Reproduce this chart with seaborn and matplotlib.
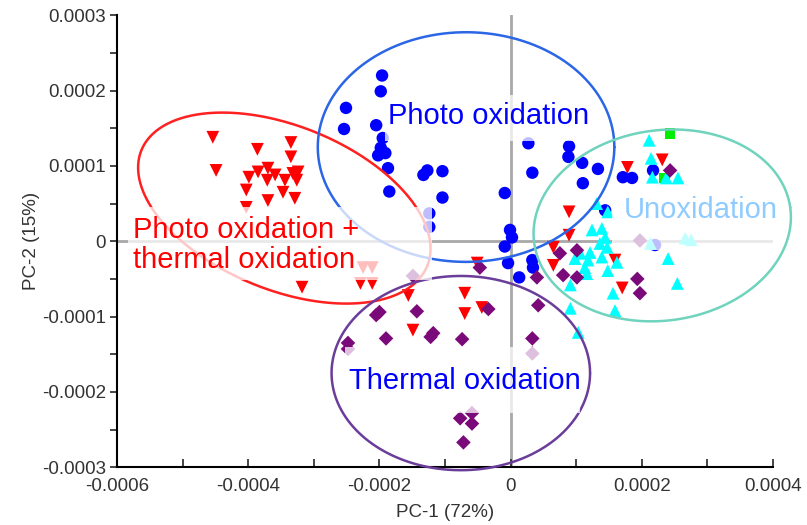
import numpy as np
import pandas as pd
import matplotlib
matplotlib.use("Agg")
import matplotlib.pyplot as plt
from matplotlib.patches import Rectangle
from matplotlib.ticker import MultipleLocator, FuncFormatter
import seaborn as sns

# scores, in units of 1e-4
photo_x = [-1.96, -1.98, -2.51, -2.54, -2.05, -1.95, -1.98, -2.02, -1.91, -1.87, -1.85,
           -1.27, -1.33, -1.04, -1.04, -1.24, -1.24, -0.09, -0.01, 0.02, -0.09, -0.04,
           0.33, 0.34, 0.13, 0.27, 0.33, 0.89, 0.88, 1.09, 1.33, 1.10, 1.44, 1.71, 1.85,
           2.17, 2.20]
photo_y = [2.20, 1.99, 1.77, 1.49, 1.54, 1.37, 1.24, 1.14, 1.17, 0.97, 0.66,
           0.94, 0.88, 0.93, 0.58, 0.37, 0.19, 0.64, 0.15, 0.05, -0.07, -0.29,
           -0.25, -0.35, -0.48, 1.30, 0.91, 1.26, 1.12, 1.04, 0.96, 0.77, 0.41, 0.85, 0.84,
           0.94, -0.05]

photo_thermal_x = [-4.54, -4.49, -3.86, -3.35, -3.35, -3.99, -3.85, -3.70, -3.71, -3.59,
                   -3.44, -3.32, -3.24, -3.26, -4.03, -3.47, -3.70, -3.29, -4.03, -3.18,
                   -2.29, -2.11, -2.25, -2.11, -1.56, -0.70, -0.70, -0.44, -1.49, -0.51,
                   0.89, 0.89, 0.65, 0.65, 1.78, 2.31, 1.59, 1.70]
photo_thermal_y = [1.38, 0.94, 1.22, 1.31, 1.12, 0.85, 0.92, 0.97, 0.81, 0.88,
                   0.81, 0.90, 0.92, 0.81, 0.68, 0.65, 0.54, 0.57, 0.45, -0.61,
                   -0.56, -0.56, -0.35, -0.35, -0.72, -0.69, -0.96, -0.88, -1.18, -0.29,
                   0.39, 0.08, -0.08, -0.32, 0.98, 1.08, -0.25, -0.62]

unox_x = [2.11, 2.14, 2.16, 2.55, 2.37, 1.31, 1.48, 1.24, 1.39, 1.44, 1.36, 1.47, 1.21,
          1.06, 0.98, 1.18, 1.39, 1.13, 1.16, 1.48, 1.62, 0.91, 1.56, 0.91, 1.59, 1.03,
          2.40, 2.54, 2.13, 2.66, 2.75]
unox_y = [1.34, 1.10, 0.85, 0.84, 0.84, 0.50, 0.39, 0.15, 0.17, 0.05, -0.03, -0.08, -0.15,
          -0.16, -0.23, -0.25, -0.21, -0.35, -0.43, -0.39, -0.28, -0.58, -0.69, -0.89, -0.92, -1.21,
          -0.23, -0.56, -0.03, 0.04, 0.02]

thermal_x = [-2.00, -2.05, -1.43, -1.18, -1.22, -1.90, -2.48, -2.48, -0.74, -0.34, -0.47,
             0.42, 0.33, 0.33, -0.77, -0.59, -0.59, -0.72, -1.49, 0.40, 0.80, 0.75, 1.01,
             1.01, 1.93, 1.97, 2.43, 1.97]
thermal_y = [-0.94, -0.98, -0.93, -1.22, -1.27, -1.29, -1.35, -1.43, -1.30, -0.90, -0.35,
             -0.85, -1.29, -1.49, -2.35, -2.42, -2.28, -2.67, -0.46, -0.48, -0.45, -0.16, -0.12,
             -0.48, -0.50, -0.69, 0.94, 0.01]

control_x = [2.43, 2.35]
control_y = [1.43, 0.84]

groups = ["Control", "Photo oxidation", "Photo oxidation + thermal oxidation",
          "Unoxidation", "Thermal oxidation"]
colors = {"Control": "#00ee00", "Photo oxidation": "#0000ff",
          "Photo oxidation + thermal oxidation": "#ff0000",
          "Unoxidation": "#00ffff", "Thermal oxidation": "#7a0a7a"}
markers = {"Control": "s", "Photo oxidation": "o",
           "Photo oxidation + thermal oxidation": "v",
           "Unoxidation": "^", "Thermal oxidation": "D"}
sizes = {"Control": 60, "Photo oxidation": 80,
         "Photo oxidation + thermal oxidation": 85,
         "Unoxidation": 85, "Thermal oxidation": 55}

# ellipse outlines: centre x, centre y, semi-axes (x units), angle in degrees
ell_cx = [-3.45, -0.68, 2.31, -0.76]
ell_cy = [0.44, 1.25, 0.21, -1.75]
ell_a = [2.35, 2.26, 1.97, 1.97]
ell_b = [1.25, 1.75, 1.45, 1.48]
ell_ang = [-22, 0, 8, 0]
ell_colors = ["#ff2020", "#2a66e6", "#6fd3bd", "#6b3d9a"]
Y_PER_X = 0.871  # y-units per x-unit on screen

# group labels and the translucent white boxes behind them (x0, x1, y0, y1)
labels = ["Photo oxidation", "Photo oxidation +\nthermal oxidation",
          "Thermal oxidation", "Unoxidation"]
label_x = [-0.33, -5.76, -0.70, 2.90]
label_y = [1.66, -0.05, -1.85, 0.42]
label_ha = ["center", "left", "center", "center"]
label_colors = ["#0000ff", "#ff0000", "#0000ff", "#8fcbff"]
box_x0 = [-1.91, -5.83, -2.52, 1.55]
box_x1 = [1.29, -1.20, 1.06, 4.14]
box_y0 = [1.33, -0.52, -2.28, -0.12]
box_y1 = [1.94, 0.45, -1.41, 0.70]

xs = [control_x, photo_x, photo_thermal_x, unox_x, thermal_x]
ys = [control_y, photo_y, photo_thermal_y, unox_y, thermal_y]
df = pd.concat([pd.DataFrame({"x": np.array(x) * 1e-4, "y": np.array(y) * 1e-4, "group": g})
                for g, x, y in zip(groups, xs, ys)], ignore_index=True)

sns.set_style("ticks")
plt.rcParams["font.family"] = ["Liberation Sans", "DejaVu Sans"]

fig = plt.figure(figsize=(8.07, 5.25), dpi=100)
ax = fig.add_axes([0.145, 0.110, 0.813, 0.861])

ax.axhline(0, color="#a8a8a8", lw=2, zorder=0.5)
ax.axvline(0, color="#a8a8a8", lw=2, zorder=0.5)

sns.scatterplot(data=df, x="x", y="y", hue="group", style="group", size="group",
                palette=colors, markers=markers, sizes=sizes, linewidth=0,
                legend=False, ax=ax, zorder=2)

t = np.linspace(0, 2 * np.pi, 300)
for cx, cy, a, b, ang, c in zip(ell_cx, ell_cy, ell_a, ell_b, ell_ang, ell_colors):
    th = np.deg2rad(ang)
    u, v = a * np.cos(t), b * np.sin(t)
    ex = cx + u * np.cos(th) - v * np.sin(th)
    ey = cy + (u * np.sin(th) + v * np.cos(th)) * Y_PER_X
    ax.plot(ex * 1e-4, ey * 1e-4, color=c, lw=1.8, zorder=3, clip_on=False)

for x0, x1, y0, y1 in zip(box_x0, box_x1, box_y0, box_y1):
    ax.add_patch(Rectangle((x0 * 1e-4, y0 * 1e-4), (x1 - x0) * 1e-4, (y1 - y0) * 1e-4,
                           facecolor="white", edgecolor="none", alpha=0.75, zorder=3.5))

for txt, lx, ly, ha, c in zip(labels, label_x, label_y, label_ha, label_colors):
    ax.text(lx * 1e-4, ly * 1e-4, txt, color=c, fontsize=21, ha=ha, va="center",
            linespacing=1.05, zorder=4)

ax.set_xlim(-0.0006, 0.0004)
ax.set_ylim(-0.0003, 0.0003)
ax.xaxis.set_major_locator(MultipleLocator(0.0002))
ax.xaxis.set_minor_locator(MultipleLocator(0.0001))
ax.yaxis.set_major_locator(MultipleLocator(0.0001))
ax.yaxis.set_minor_locator(MultipleLocator(0.00005))
fmt = FuncFormatter(lambda v, p: "0" if abs(v) < 1e-12 else f"{v:.4f}")
ax.xaxis.set_major_formatter(fmt)
ax.yaxis.set_major_formatter(fmt)

ax.tick_params(axis="x", which="both", direction="in", length=6, width=1.2,
               labelsize=13.5, labelcolor="#333333", pad=8)
ax.tick_params(axis="y", which="both", direction="out", length=5, width=1.2,
               labelsize=13.5, labelcolor="#333333", pad=3)
sns.despine(ax=ax)
for s in ["left", "bottom"]:
    ax.spines[s].set_color("black")
    ax.spines[s].set_linewidth(1.5)

ax.set_xlabel("PC-1 (72%)", fontsize=13.5, color="#333333", labelpad=6)
ax.set_ylabel("PC-2 (15%)", fontsize=13.5, color="#333333", labelpad=1)

fig.savefig("out.png", dpi=100)
